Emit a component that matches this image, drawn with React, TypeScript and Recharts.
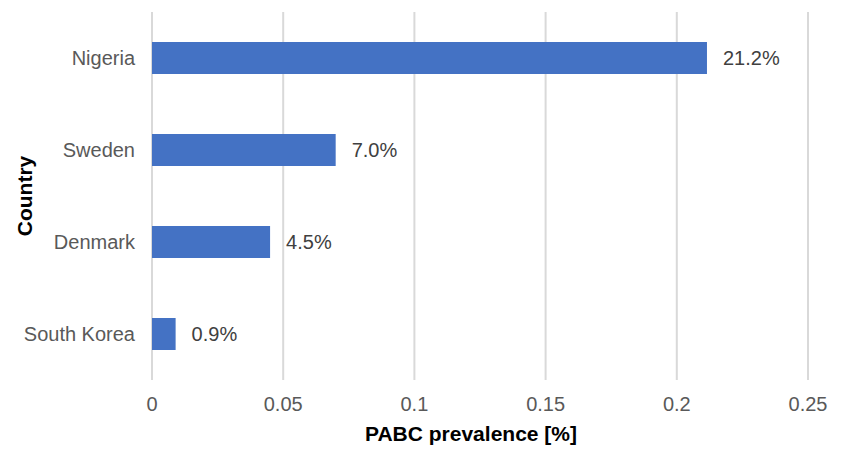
import React from "react";
import {
  BarChart,
  Bar,
  XAxis,
  YAxis,
  CartesianGrid,
  LabelList,
  Label,
} from "recharts";

const countries = ["Nigeria", "Sweden", "Denmark", "South Korea"];
const prevalence = [0.2115, 0.07, 0.045, 0.009];
const valueLabels = ["21.2%", "7.0%", "4.5%", "0.9%"];
const xTicks = [0, 0.05, 0.1, 0.15, 0.2, 0.25];

const data = countries.map((country, i) => ({
  country,
  value: prevalence[i],
  label: valueLabels[i],
}));

const FONT = '"Liberation Sans", Arial, Helvetica, sans-serif';

const App = () => {
  return (
    <div style={{ width: 844, height: 452, fontFamily: FONT }}>
      <style>{`body { margin: 0; }`}</style>
      <BarChart
        width={844}
        height={452}
        data={data}
        layout="vertical"
        margin={{ top: 12, right: 36, bottom: 0, left: 0 }}
      >
        <CartesianGrid horizontal={false} stroke="#d9d9d9" strokeWidth={2} />
        <XAxis
          type="number"
          domain={[0, 0.25]}
          ticks={xTicks}
          height={72}
          axisLine={false}
          tickLine={false}
          tickMargin={11}
          tick={{ fill: "#595959", fontSize: 20, fontFamily: FONT }}
        >
          <Label
            content={({ viewBox }: any) => (
              <text
                x={viewBox.x + viewBox.width / 2 - 9}
                y={viewBox.y + 61}
                textAnchor="middle"
                fontSize={21}
                fontWeight="bold"
                fill="#000"
                fontFamily={FONT}
              >
                PABC prevalence [%]
              </text>
            )}
          />
        </XAxis>
        <YAxis
          type="category"
          dataKey="country"
          width={152}
          axisLine={false}
          tickLine={false}
          tickMargin={11}
          tick={{ fill: "#595959", fontSize: 20, fontFamily: FONT }}
        >
          <Label
            content={({ viewBox }: any) => {
              const cx = viewBox.x + 24;
              const cy = viewBox.y + viewBox.height / 2;
              return (
                <text
                  x={cx}
                  y={cy}
                  transform={`rotate(-90, ${cx}, ${cy})`}
                  textAnchor="middle"
                  dominantBaseline="central"
                  fontSize={21}
                  fontWeight="bold"
                  fill="#000"
                  fontFamily={FONT}
                >
                  Country
                </text>
              );
            }}
          />
        </YAxis>
        <Bar dataKey="value" fill="#4472C4" barSize={32} isAnimationActive={false}>
          <LabelList
            dataKey="label"
            position="right"
            offset={16}
            style={{ fill: "#404040", fontSize: 20, fontFamily: FONT }}
          />
        </Bar>
      </BarChart>
    </div>
  );
};

export default App;
